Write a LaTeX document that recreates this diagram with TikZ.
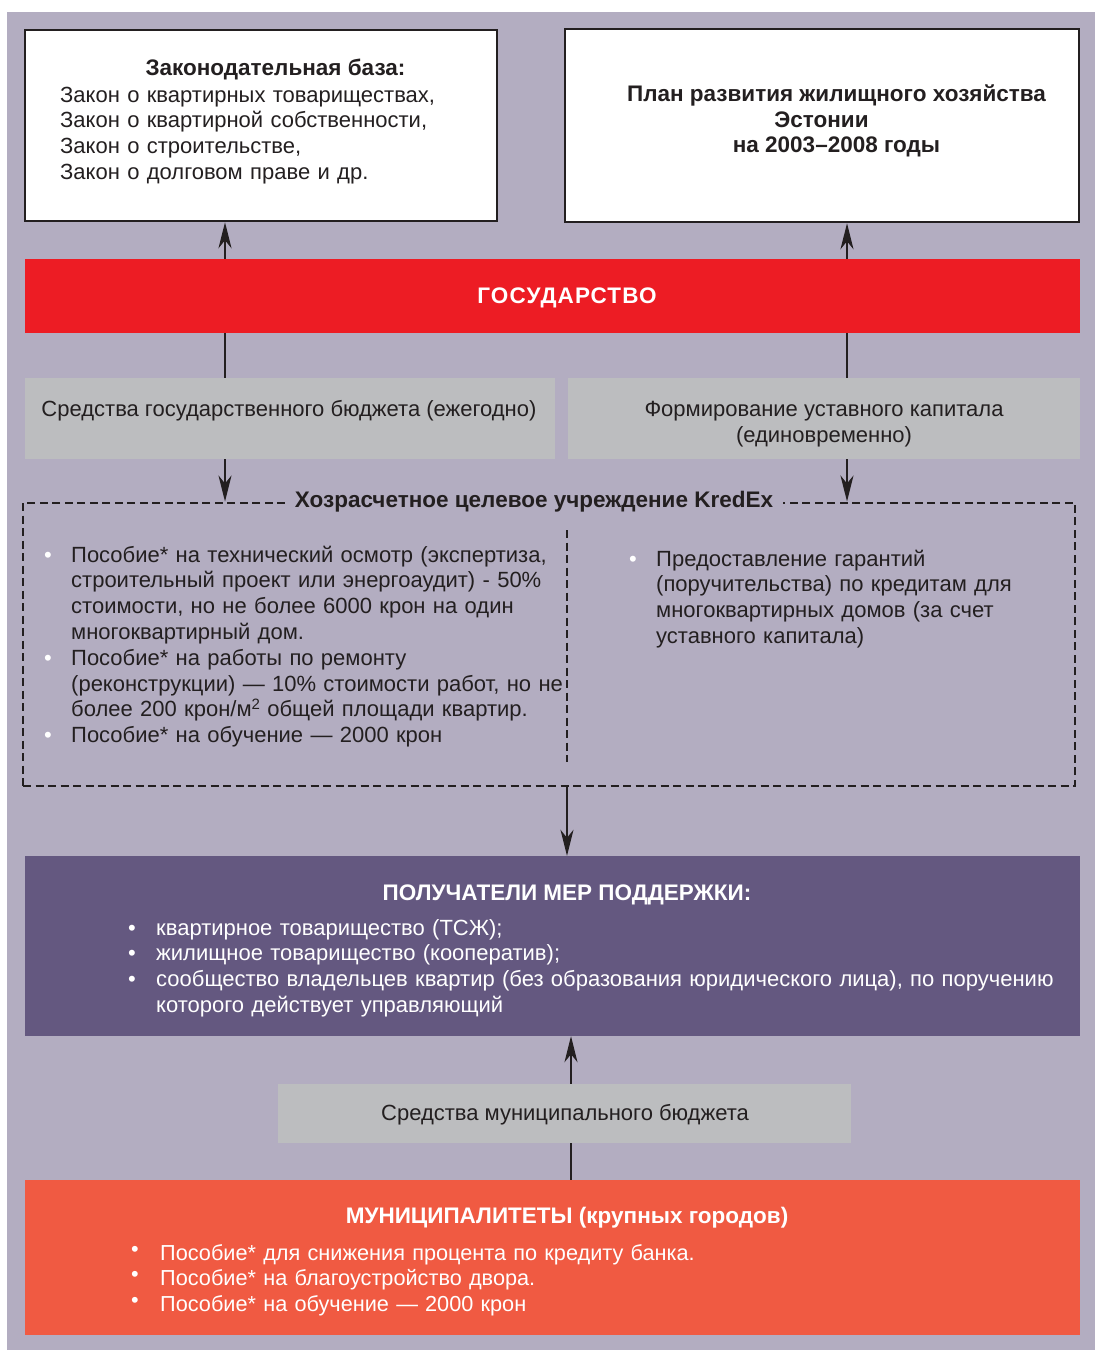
\documentclass[tikz,border=0pt]{standalone}
\usepackage{fontspec}
\setmainfont{Liberation Sans}
\usetikzlibrary{arrows.meta}
\definecolor{bgc}{HTML}{B3ADC1}
\definecolor{redc}{HTML}{ED1C24}
\definecolor{grayc}{HTML}{BCBDBF}
\definecolor{purc}{HTML}{645880}
\definecolor{orc}{HTML}{F05A42}
\definecolor{txt}{HTML}{231F20}
\newcommand\bitem[3][0pt]{\hangindent=#2\hangafter=1\noindent\makebox[#2][l]{\raisebox{#1}{\textcolor{white}{•}}}#3\par}
\newcommand\sqsup{\raisebox{7pt}{\fontsize{15}{15}\selectfont 2}}
\begin{document}
\begin{tikzpicture}[x=1pt,y=-1pt,
  font=\fontsize{22}{25.8}\selectfont,
  wbox/.style={draw=txt, line width=2.5pt, fill=white, inner sep=0},
  bar/.style={inner sep=0, draw=none},
  arr/.style={line width=2pt, draw=txt, -{Stealth[length=26pt,width=13pt,inset=8pt]}},
  ln/.style={line width=2pt, draw=txt},
  dsh/.style={line width=2pt, draw=txt, dash pattern=on 8pt off 4.5pt},
  tn/.style={inner sep=0, text=txt},
  hd/.style={inner sep=0, font=\fontsize{22.5}{25.8}\selectfont\bfseries},
  lst/.style={inner sep=0, anchor=base west, align=left},
  ]
\useasboundingbox (0,0) rectangle (1095,1350);
\fill[white] (0,0) rectangle (1095,1350);
\fill[bgc] (7,12) rectangle (1095,1350);

\coordinate (xL) at (225,0);
\coordinate (xR) at (847,0);
\coordinate (xM) at (567,0);
\coordinate (xB) at (571,0);

% top boxes
\node[wbox, minimum width=472pt, minimum height=191pt] (law) at (261,125.5) {};
\node[hd, text=txt] (lawt) at (275.5,69) {Законодательная база:};
\node[tn, lst, text width=430pt] (lawl) at (60,102) {Закон о квартирных товариществах,\\Закон о квартирной собственности,\\Закон о строительстве,\\Закон о долговом праве и др.};

\node[wbox, minimum width=514pt, minimum height=193pt] (plan) at (822,125.5) {};
\node[hd, text=txt, align=center] (plant) at (836.5,121) {План развития жилищного хозяйства\\\mbox{Эстонии\hspace{30pt}}\\на 2003–2008 годы};

% state
\node[bar, fill=redc, minimum width=1055pt, minimum height=74pt] (gov) at (552.5,296) {};
\node[hd, text=white] (govt) at (567,298) {\addfontfeature{LetterSpace=5}ГОСУДАРСТВО};

% gray boxes
\node[bar, fill=grayc, minimum width=530pt, minimum height=81pt] (gl) at (290,418.5) {};
\node[tn] (glt) at (289,411) {Средства государственного бюджета (ежегодно)};
\node[bar, fill=grayc, minimum width=512pt, minimum height=81pt] (gr) at (824,418.5) {};
\node[tn, align=center] (grt) at (824,424) {Формирование уставного капитала\\(единовременно)};

% KredEx dashed box
\node[dsh, inner sep=0, minimum width=1052pt, minimum height=283pt] (kx) at (549,644) {};
\node[hd, fill=bgc, text=txt, inner xsep=10pt, inner ysep=3pt] (kxt) at (534,502) {Хозрасчетное целевое учреждение KredEx};
\coordinate (dv1) at (567,530);
\coordinate (dv2) at (567,762);
\draw[dsh] (dv1) -- (dv2);

\node[tn, lst, text width=560pt] (kl) at (44,562) {%
\bitem{27pt}{Пособие* на технический осмотр (экспертиза,\newline строительный проект или энергоаудит) - 50\%\newline стоимости, но не более 6000 крон на один\newline многоквартирный дом.}%
\bitem{27pt}{Пособие* на работы по ремонту\newline (реконструкции) — 10\% стоимости работ, но не\newline более 200 крон/м\sqsup{} общей площади квартир.}%
\bitem{27pt}{Пособие* на обучение — 2000 крон}};

\node[tn, lst, text width=440pt] (kr) at (629,566) {%
\bitem{27pt}{Предоставление гарантий\newline (поручительства) по кредитам для\newline многоквартирных домов (за счет\newline уставного капитала)}};

% recipients
\node[bar, fill=purc, minimum width=1055pt, minimum height=180pt] (rec) at (552.5,946) {};
\node[hd, text=white] (rect) at (567,895) {ПОЛУЧАТЕЛИ МЕР ПОДДЕРЖКИ:};
\node[inner sep=0, lst, text=white, text width=960pt] (recl) at (128,935) {%
\bitem{28pt}{квартирное товарищество (ТСЖ);}%
\bitem{28pt}{жилищное товарищество (кооператив);}%
\bitem{28pt}{сообщество владельцев квартир (без образования юридического лица), по поручению\newline которого действует управляющий}};

% municipal budget
\node[bar, fill=grayc, minimum width=573pt, minimum height=59pt] (mb) at (564.5,1113.5) {};
\node[tn] (mbt) at (565,1115) {Средства муниципального бюджета};

% municipalities
\node[bar, fill=orc, minimum width=1055pt, minimum height=155pt] (mun) at (552.5,1257.5) {};
\node[hd, text=white] (munt) at (567,1218) {МУНИЦИПАЛИТЕТЫ (крупных городов)};
\node[inner sep=0, lst, text=white, text width=900pt, font=\fontsize{21.7}{25.8}\selectfont] (munl) at (131,1260) {%
\bitem[4pt]{29pt}{Пособие* для снижения процента по кредиту банка.}%
\bitem[4pt]{29pt}{Пособие* на благоустройство двора.}%
\bitem[4pt]{29pt}{Пособие* на обучение — 2000 крон}};

% connectors
\draw[arr] (gov.north -| xL) -- (law.south -| xL);
\draw[arr] (gov.north -| xR) -- (plan.south -| xR);
\draw[ln] (gov.south -| xL) -- (gl.north -| xL);
\draw[ln] (gov.south -| xR) -- (gr.north -| xR);
\draw[arr] (gl.south -| xL) -- (kx.north -| xL);
\draw[arr] (gr.south -| xR) -- (kx.north -| xR);
\draw[arr] (kx.south -| xM) -- (rec.north -| xM);
\draw[arr] (mb.north -| xB) -- (rec.south -| xB);
\draw[ln] (mun.north -| xB) -- (mb.south -| xB);
\end{tikzpicture}
\end{document}
